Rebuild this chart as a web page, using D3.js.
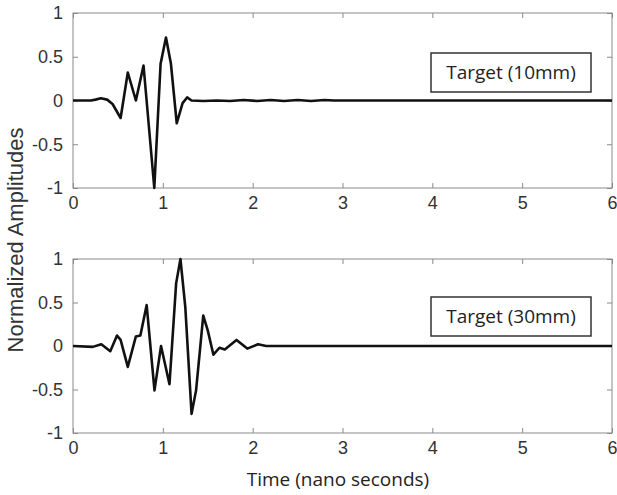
<!DOCTYPE html>
<html><head><meta charset="utf-8">
<script src="https://cdn.jsdelivr.net/npm/d3@7"></script>
<style>html,body{margin:0;padding:0;background:#fff;}svg{display:block;}</style>
</head><body>
<script>
// ---- data ----
const xTicks = [0, 1, 2, 3, 4, 5, 6];
const yTicks = [-1, -0.5, 0, 0.5, 1];
const yTickLabels = ["-1", "-0.5", "0", "0.5", "1"];
const xLabel = "Time (nano seconds)";
const yLabel = "Normalized Amplitudes";
const legendTop = "Target (10mm)";
const legendBottom = "Target (30mm)";

const timeTop = [0, 0.2, 0.25, 0.31, 0.38, 0.44, 0.53, 0.61, 0.70, 0.785, 0.905, 0.975, 1.035, 1.09, 1.155, 1.22, 1.27, 1.32,
  1.45, 1.6, 1.75, 1.9, 2.05, 2.2, 2.35, 2.5, 2.65, 2.8, 2.9, 6];
const ampTop = [0, 0, 0.01, 0.025, 0.01, -0.04, -0.2, 0.32, 0.0, 0.40, -1.0, 0.42, 0.72, 0.42, -0.26, -0.03, 0.035, 0.0,
  -0.005, 0.0, -0.005, 0.005, -0.005, 0.005, -0.005, 0.005, -0.005, 0.005, 0, 0];

const timeBottom = [0, 0.22, 0.315, 0.415, 0.49, 0.53, 0.61, 0.70, 0.75, 0.82, 0.907, 0.98, 1.074, 1.148, 1.196, 1.25, 1.32, 1.37,
  1.45, 1.5, 1.563, 1.63, 1.69, 1.82, 1.94, 2.06, 2.15, 6];
const ampBottom = [0, -0.01, 0.02, -0.06, 0.12, 0.07, -0.24, 0.11, 0.12, 0.47, -0.51, 0.0, -0.44, 0.72, 1.0, 0.45, -0.78, -0.51,
  0.35, 0.18, -0.10, -0.02, -0.04, 0.07, -0.03, 0.02, 0, 0];

// ---- drawing ----
const W = 617, H = 495;
const svg = d3.select("body").append("svg").attr("width", W).attr("height", H);

const x = d3.scaleLinear().domain([0, 6]).range([73, 612]);
const panels = [
  {time: timeTop, amp: ampTop, top: 13, bottom: 188, legend: legendTop, boxY: 53},
  {time: timeBottom, amp: ampBottom, top: 259, bottom: 433, legend: legendBottom, boxY: 297}
];

const tickFont = "'Liberation Sans', Arial, sans-serif";
const labelFont = "'Open Sans', sans-serif";
const frameColor = "#8a8a8a";
const textColor = "#333";

panels.forEach(p => {
  const y = d3.scaleLinear().domain([-1, 1]).range([p.bottom, p.top]);
  const g = svg.append("g");

  // frame
  g.append("rect").attr("x", x(0)).attr("y", y(1))
    .attr("width", x(6) - x(0)).attr("height", y(-1) - y(1))
    .attr("fill", "none").attr("stroke", frameColor).attr("stroke-width", 1);

  // axes (inward ticks on all four sides)
  const axB = d3.axisBottom(x).tickValues(xTicks).tickSize(-5).tickFormat(d3.format("d")).tickPadding(8);
  const axT = d3.axisTop(x).tickValues(xTicks).tickSize(-5).tickFormat("");
  const axL = d3.axisLeft(y).tickValues(yTicks).tickSize(-5).tickFormat((d, i) => yTickLabels[i]).tickPadding(10);
  const axR = d3.axisRight(y).tickValues(yTicks).tickSize(-5).tickFormat("");

  const gb = g.append("g").attr("transform", `translate(0,${y(-1)})`).call(axB);
  const gt = g.append("g").attr("transform", `translate(0,${y(1)})`).call(axT);
  const gl = g.append("g").attr("transform", `translate(${x(0)},0)`).call(axL);
  const gr = g.append("g").attr("transform", `translate(${x(6)},0)`).call(axR);
  [gb, gt, gl, gr].forEach(a => {
    a.select(".domain").remove();
    a.selectAll(".tick line").attr("stroke", frameColor);
    a.selectAll(".tick text").attr("fill", textColor).style("font-family", tickFont).style("font-size", "18px");
  });

  // data line
  const line = d3.line().x((d, i) => x(p.time[i])).y((d, i) => y(p.amp[i]));
  g.append("path").datum(p.amp).attr("d", line)
    .attr("fill", "none").attr("stroke", "#111").attr("stroke-width", 2.6)
    .attr("stroke-linejoin", "round");

  // legend box
  g.append("rect").attr("x", 431).attr("y", p.boxY).attr("width", 160).attr("height", 39)
    .attr("fill", "#fff").attr("stroke", "#333").attr("stroke-width", 1.5);
  g.append("text").attr("x", 511).attr("y", p.boxY + 26).attr("text-anchor", "middle")
    .style("font-family", labelFont).style("font-size", "19px").attr("fill", "#222")
    .text(p.legend);
});

svg.append("text").attr("x", 338).attr("y", 486).attr("text-anchor", "middle")
  .style("font-family", labelFont).style("font-size", "19px").attr("fill", "#222").text(xLabel);

svg.append("text").attr("transform", "translate(23,240) rotate(-90)").attr("text-anchor", "middle")
  .style("font-family", tickFont).style("font-size", "22px").attr("fill", textColor).text(yLabel);
</script>
</body></html>
